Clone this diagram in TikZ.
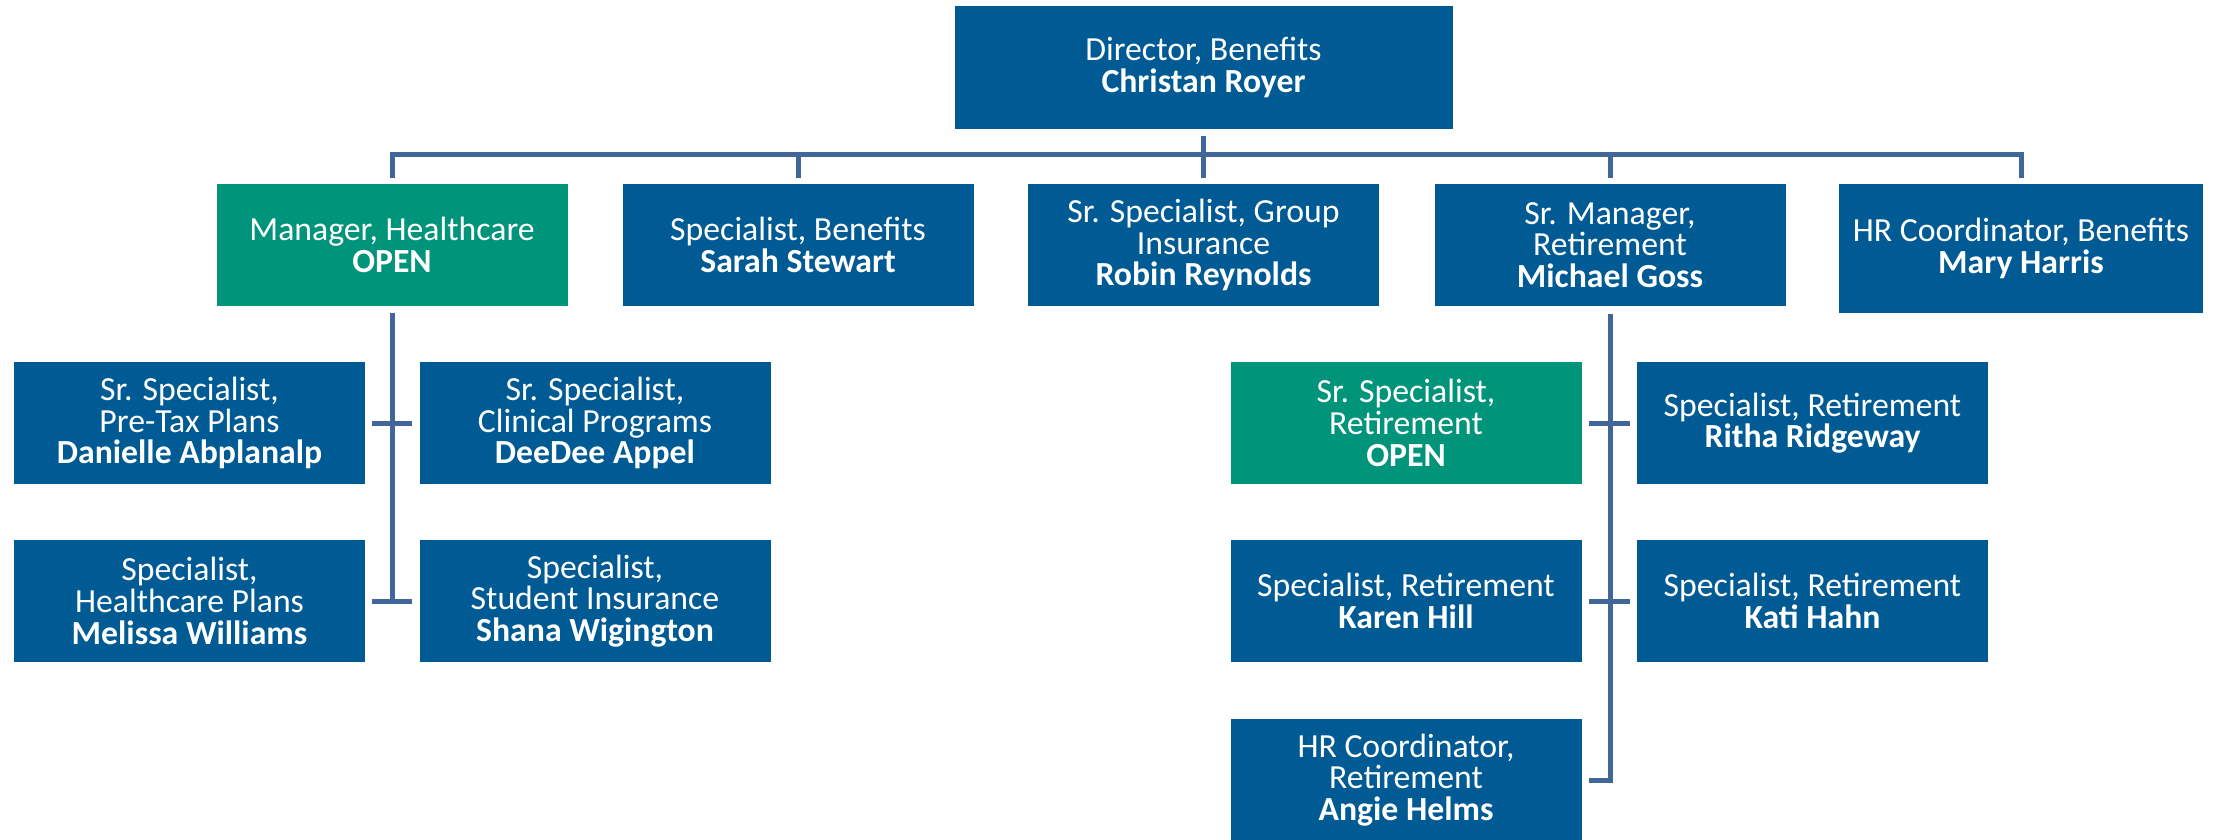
\documentclass[tikz,border=0pt]{standalone}
\usepackage{fontspec}
\setmainfont{Carlito}
\definecolor{boxblue}{RGB}{0,90,148}
\definecolor{opengreen}{RGB}{0,148,122}
\definecolor{linkblue}{RGB}{65,103,154}

\begin{document}
\begin{tikzpicture}
\tikzset{
    box/.style={rectangle, fill=boxblue, text=white, minimum width=3.51cm, minimum height=1.22cm, inner sep=0pt, align=center, font=\fontsize{9.6}{9}\selectfont},
    openbox/.style={box, fill=opengreen},
    conn/.style={draw=linkblue, line width=0.05cm}
}
\useasboundingbox (0,0) rectangle (22.19,-8.39);

% --- nodes ---
\node[box, minimum width=4.98cm, minimum height=1.23cm] (director) at (12.035,-0.675) {Director, Benefits\\\textbf{Christan Royer}};

\node[openbox] (mgrhealth) at (3.92,-2.45) {Manager, Healthcare\\\textbf{OPEN}};
\node[box] (specbenefits) at (7.98,-2.45) {Specialist, Benefits\\\textbf{Sarah Stewart}};
\node[box] (srspecgroup) at (12.035,-2.45) {Sr. Specialist, Group\\Insurance\\\textbf{Robin Reynolds}};
\node[box] (srmgrret) at (16.10,-2.45) {Sr. Manager,\\Retirement\\\textbf{Michael Goss}};
\node[box, minimum width=3.64cm, minimum height=1.29cm] (hrcoordben) at (20.21,-2.485) {HR Coordinator, Benefits\\\textbf{Mary Harris}};

\node[box] (pretax) at (1.895,-4.23) {Sr. Specialist,\\Pre-Tax Plans\\\textbf{Danielle Abplanalp}};
\node[box] (clinical) at (5.95,-4.23) {Sr. Specialist,\\Clinical Programs\\\textbf{DeeDee Appel}};
\node[box] (hcplans) at (1.895,-6.01) {Specialist,\\Healthcare Plans\\\textbf{Melissa Williams}};
\node[box] (studentins) at (5.95,-6.01) {Specialist,\\Student Insurance\\\textbf{Shana Wigington}};

\node[openbox] (srspecret) at (14.06,-4.23) {Sr. Specialist,\\Retirement\\\textbf{OPEN}};
\node[box] (ridgeway) at (18.125,-4.23) {Specialist, Retirement\\\textbf{Ritha Ridgeway}};
\node[box] (hill) at (14.06,-6.01) {Specialist, Retirement\\\textbf{Karen Hill}};
\node[box] (hahn) at (18.125,-6.01) {Specialist, Retirement\\\textbf{Kati Hahn}};
\node[box] (helms) at (14.06,-7.80) {HR Coordinator,\\Retirement\\\textbf{Angie Helms}};

% --- edges (top bus) ---
\draw[conn] ([yshift=-0.06cm]director.south) -- ([yshift=0.05cm]srspecgroup.north);
\draw[conn] ([yshift=0.05cm]mgrhealth.north) -- ++(0,0.24) -| ([yshift=0.05cm]hrcoordben.north);
\draw[conn] ([yshift=0.05cm]specbenefits.north) -- ++(0,0.24);
\draw[conn] ([yshift=0.05cm]srmgrret.north) -- ++(0,0.24);

% --- edges (healthcare) ---
\draw[conn] ([yshift=-0.06cm]mgrhealth.south) -- (mgrhealth.south |- hcplans.east);
\draw[conn] ([xshift=0.06cm]pretax.east) -- ([xshift=-0.07cm]clinical.west);
\draw[conn] ([xshift=0.06cm]hcplans.east) -- ([xshift=-0.07cm]studentins.west);

% --- edges (retirement) ---
\draw[conn] ([yshift=-0.07cm]srmgrret.south) |- ([xshift=0.07cm]helms.east);
\draw[conn] ([xshift=0.07cm]srspecret.east) -- ([xshift=-0.06cm]ridgeway.west);
\draw[conn] ([xshift=0.07cm]hill.east) -- ([xshift=-0.06cm]hahn.west);
\end{tikzpicture}
\end{document}
